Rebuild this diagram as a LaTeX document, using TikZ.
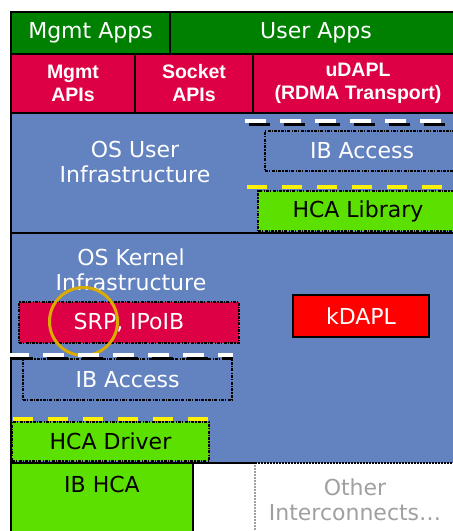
\documentclass[tikz,border=0pt]{standalone}
\usepackage{fontspec}
\setmainfont{DejaVu Sans}
\newfontfamily\apifont{Liberation Sans}
\definecolor{appgreen}{RGB}{0,128,0}
\definecolor{apired}{RGB}{221,0,68}
\definecolor{layerblue}{RGB}{99,130,192}
\definecolor{hcagreen}{RGB}{92,224,0}
\definecolor{kred}{RGB}{255,0,0}
\definecolor{ringgold}{RGB}{218,172,0}
\definecolor{othergray}{RGB}{160,160,160}
\begin{document}
\begin{tikzpicture}[x=1pt,y=-1pt,
  solidbox/.style={draw=black,line width=2.4pt,inner sep=0pt,outer sep=0pt},
  dotbox/.style={draw=black,line width=1.5pt,dash pattern=on 3pt off 1.2pt on 1.2pt off 1.2pt,inner sep=0pt,outer sep=0pt},
  bigtxt/.style={font=\fontsize{22}{25}\selectfont,align=center,inner sep=0pt},
  apitxt/.style={font=\apifont\bfseries\fontsize{19.5}{23}\selectfont,text=white,align=center,inner sep=0pt},
  dashwhite/.style={white,line width=3.5pt,dash pattern=on 21pt off 14pt},
  dashyellow/.style={yellow,line width=4pt,dash pattern=on 20pt off 15pt},
  dashshadow/.style={black,line width=3pt,dash pattern=on 21pt off 14pt}]
\useasboundingbox (0,0) rectangle (453,531);
\clip (0,0) rectangle (453,531);
\fill[white] (0,0) rectangle (453,531);

% application row
\node[solidbox,fill=appgreen,minimum width=159pt,minimum height=42pt,bigtxt,text=white] (mgmtapps) at (90.5,33) {Mgmt Apps};
\node[solidbox,fill=appgreen,minimum width=292pt,minimum height=42pt,bigtxt,text=white] (userapps) at (316,33) {User Apps};

% API row
\node[solidbox,fill=apired,minimum width=124pt,minimum height=59pt,apitxt] (mgmtapis) at (73,83.5) {Mgmt\\APIs};
\node[solidbox,fill=apired,minimum width=118pt,minimum height=59pt,apitxt] (sockapis) at (194,83.5) {Socket\\APIs};
\node[solidbox,fill=apired,minimum width=210pt,minimum height=59pt,apitxt] (udapl) at (358,83.5) {uDAPL\\(RDMA Transport)};

% user and kernel infrastructure layers
\fill[layerblue] (11,113) rectangle (470,463);
\draw[black,line width=2.4pt] (11,113) -- (11,463) -- (255,463);
\draw[black,line width=2.4pt] (11,113) -- (470,113);
\draw[black,line width=2.4pt] (11,233) -- (470,233);
\draw[black,line width=1.5pt,dash pattern=on 1.5pt off 1.5pt] (255,463) -- (470,463);

\node[bigtxt,text=white] (osuser) at (135,161.5) {OS User\\Infrastructure};

% user-level verbs stack
\draw[dashshadow] (249,124) -- (470,124);
\draw[dashwhite] (245,121) -- (470,121);
\node[dotbox,minimum width=194pt,minimum height=40pt,bigtxt,text=white] (ibuser) at (362,151) {IB Access};
\node[dotbox,fill=hcagreen,minimum width=200pt,minimum height=40pt,bigtxt,text=black] (hcalib) at (358,211) {HCA Library};
\draw[dashyellow] (247,187) -- (470,187);

% kernel layer
\node[bigtxt,text=white] (oskernel) at (131,270) {OS Kernel\\Infrastructure};
\node[dotbox,fill=apired,minimum width=220pt,minimum height=41pt,bigtxt,text=white] (srp) at (129,322.5) {SRP, IPoIB};
\node[solidbox,fill=kred,minimum width=136pt,minimum height=42pt,bigtxt,text=white] (kdapl) at (361,316) {kDAPL};
\draw[ringgold,line width=3pt] (83.5,321.5) circle (34pt);

\draw[dashshadow] (12,358) -- (233,358);
\draw[dashwhite] (8,355) -- (233,355);
\node[dotbox,minimum width=209pt,minimum height=41pt,bigtxt,text=white] (ibkern) at (127.5,379.5) {IB Access};

\node[dotbox,fill=hcagreen,minimum width=197pt,minimum height=39pt,bigtxt,text=black] (hcadrv) at (110.5,441.5) {HCA Driver};
\draw[dashyellow] (13,419) -- (208,419);

% hardware row
\node[solidbox,fill=hcagreen,minimum width=182pt,minimum height=82pt,anchor=north west] (ibhca) at (11,463) {};
\node[bigtxt,text=black] (ibhcatxt) at (102,484) {IB HCA};
\draw[othergray,line width=1.5pt,dash pattern=on 1.5pt off 1.5pt] (255,465) -- (255,531);
\node[bigtxt,text=othergray] (other) at (355,499.5) {Other\\Interconnects\ldots};
\end{tikzpicture}
\end{document}
